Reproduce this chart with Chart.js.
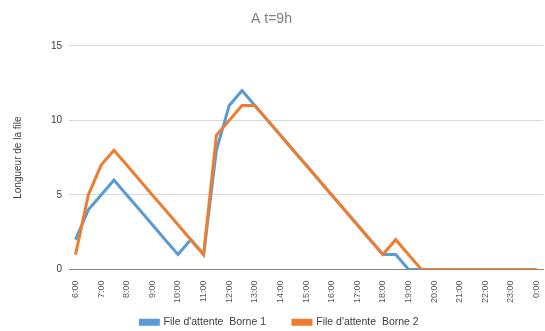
<!DOCTYPE html>
<html>
<head>
<meta charset="utf-8">
<script src="https://cdn.jsdelivr.net/npm/chart.js@4/dist/chart.umd.min.js"></script>
<style>
  html, body { margin: 0; padding: 0; background: #fff; }
  #wrap { width: 545px; height: 331px; position: relative; }
</style>
</head>
<body>
<div id="wrap"><canvas id="fileChart"></canvas></div>
<script>
// Heures par pas de 30 min, de 6:00 à 0:00
const heures = [
    '6:00', '6:30', '7:00', '7:30', '8:00', '8:30', '9:00', '9:30', '10:00', '10:30',
    '11:00', '11:30', '12:00', '12:30', '13:00', '13:30', '14:00', '14:30', '15:00', '15:30',
    '16:00', '16:30', '17:00', '17:30', '18:00', '18:30', '19:00', '19:30', '20:00', '20:30',
    '21:00', '21:30', '22:00', '22:30', '23:00', '23:30', '0:00'
];

const borne1 = [2, 4, 5, 6, 5, 4, 3, 2, 1, 2, 1, 8, 11, 12, 11, 10, 9, 8, 7, 6,
    5, 4, 3, 2, 1, 1, 0, 0, 0, 0, 0, 0, 0, 0, 0, 0, 0];
const borne2 = [1, 5, 7, 8, 7, 6, 5, 4, 3, 2, 1, 9, 10, 11, 11, 10, 9, 8, 7, 6,
    5, 4, 3, 2, 1, 2, 1, 0, 0, 0, 0, 0, 0, 0, 0, 0, 0];

const yTicks = [0, 5, 10, 15];

const police = '"Liberation Sans", Arial, sans-serif';

// La légende garde un grand écart entre ses entrées sans prendre
// autant de hauteur : on réduit la place réservée puis on remonte son haut
// (le bas reste au bord du canvas, sinon la zone de découpe masque le texte).
const legendeCompacte = {
    id: 'legendeCompacte',
    afterInit(chart) {
        const legend = chart.legend;
        const fit = legend.fit;
        legend.fit = function () {
            fit.call(this);
            this.height = 25;
        };
    },
    afterLayout(chart) {
        const legend = chart.legend;
        legend.top -= 16;
        legend.left += 8;
        legend.right += 8;
    }
};

const ctx = document.getElementById('fileChart').getContext('2d');
new Chart(ctx, {
    type: 'line',
    data: {
        labels: heures,
        datasets: [
            {
                label: "File d'attente  Borne 1",
                data: borne1,
                borderColor: '#5B9BD5',
                backgroundColor: '#5B9BD5',
                borderWidth: 3,
                pointRadius: 0,
                tension: 0,
                order: 1
            },
            {
                label: "File d'attente  Borne 2",
                data: borne2,
                borderColor: '#ED7D31',
                backgroundColor: '#ED7D31',
                borderWidth: 3,
                pointRadius: 0,
                tension: 0,
                order: 0
            }
        ]
    },
    plugins: [legendeCompacte],
    options: {
        responsive: true,
        maintainAspectRatio: false,
        animation: false,
        layout: { padding: { left: 0, right: 2, top: 0, bottom: 0 } },
        scales: {
            x: {
                offset: true,
                grid: { display: false },
                border: { display: true, color: '#868686', width: 1 },
                // la dernière étiquette tient dans la demi-case, pas de marge en plus
                afterFit: scale => { scale.paddingRight = 0; },
                ticks: {
                    autoSkip: false,
                    minRotation: 90,
                    maxRotation: 90,
                    padding: 3,
                    color: '#595959',
                    font: { family: police, size: 9 },
                    // une étiquette par heure pleine
                    callback: (v, i) => (i % 2 === 0 ? heures[i] : '')
                }
            },
            y: {
                min: 0,
                max: 15,
                afterBuildTicks: axis => { axis.ticks = yTicks.map(v => ({ value: v })); },
                grid: { color: '#D9D9D9', drawTicks: false },
                border: { display: false },
                ticks: {
                    padding: 7,
                    color: '#404040',
                    font: { family: police, size: 10 }
                },
                title: {
                    display: true,
                    text: 'Longueur de la file',
                    color: '#404040',
                    font: { family: police, size: 10 },
                    padding: { top: 12, bottom: 20 }
                }
            }
        },
        plugins: {
            title: {
                display: true,
                text: 'A t=9h',
                color: '#7F7F7F',
                font: { family: police, size: 14, weight: 'normal' },
                padding: { top: 11, bottom: 18 }
            },
            legend: {
                position: 'bottom',
                labels: {
                    boxWidth: 18,
                    boxHeight: 4,
                    padding: 27,
                    color: '#404040',
                    font: { family: police, size: 10.5 },
                    sort: (a, b) => a.datasetIndex - b.datasetIndex
                }
            },
            tooltip: { enabled: false }
        }
    }
});
</script>
</body>
</html>
